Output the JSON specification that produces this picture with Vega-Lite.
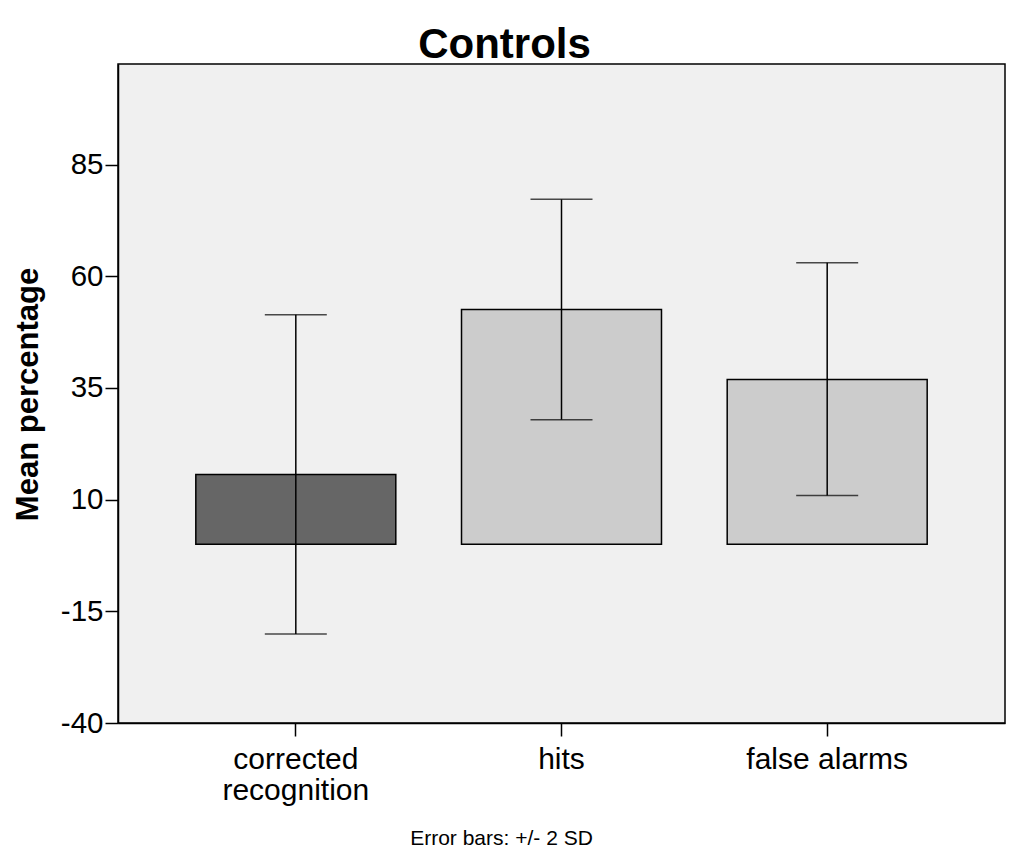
{
  "$schema": "https://vega.github.io/schema/vega-lite/v6.json",
  "autosize": {"type": "none"},
  "width": 887,
  "height": 659,
  "padding": {"left": 118, "top": 64, "right": 19, "bottom": 136},
  "background": "white",
  "title": {
    "text": "Controls",
    "font": "Liberation Sans",
    "fontSize": 42,
    "fontWeight": "bold",
    "color": "black",
    "anchor": "middle",
    "frame": "group",
    "baseline": "alphabetic",
    "offset": 4,
    "dx": -57,
    "dy": 40
  },
  "config": {
    "view": {"fill": "#f0f0f0", "stroke": "black", "strokeWidth": 1.5},
    "axis": {"grid": false, "domainColor": "black", "tickColor": "black", "labelColor": "black", "titleColor": "black", "labelFont": "Liberation Sans", "titleFont": "Liberation Sans", "domainWidth": 1.5, "tickWidth": 1.5, "tickSize": 13}
  },
  "data": {
    "values": [
      {"measure": "corrected recognition", "mean": 15.6, "low": -20.1, "high": 51.4},
      {"measure": "hits", "mean": 52.55, "low": 27.9, "high": 77.2},
      {"measure": "false alarms", "mean": 36.9, "low": 10.9, "high": 63.0}
    ]
  },
  "encoding": {
    "x": {
      "field": "measure",
      "type": "nominal",
      "sort": ["corrected recognition", "hits", "false alarms"],
      "scale": {"paddingInner": 0.2473, "paddingOuter": 0.2929},
      "axis": {
        "labelAngle": 0,
        "labelFontSize": 30,
        "labelPadding": 8,
        "labelLineHeight": 31,
        "labelExpr": "datum.value == 'corrected recognition' ? ['corrected', 'recognition'] : datum.value",
        "title": "Error bars: +/- 2 SD",
        "titleFontSize": 21,
        "titleFontWeight": "normal",
        "titleX": 383,
        "titleY": 121,
        "titleAlign": "center",
        "titleBaseline": "alphabetic",
        "titleAnchor": null
      }
    }
  },
  "layer": [
    {
      "mark": {"type": "bar", "stroke": "black", "strokeWidth": 1.5},
      "encoding": {
        "y": {
          "field": "mean",
          "type": "quantitative",
          "scale": {"domain": [-40, 107.5], "nice": false, "zero": false},
          "axis": {
            "values": [-40, -15, 10, 35, 60, 85],
            "labelExpr": "toString(datum.value)",
            "labelFontSize": 29.5,
            "labelPadding": 2,
            "title": "Mean percentage",
            "titleFontSize": 31,
            "titleFontWeight": "bold",
            "titleAngle": -90,
            "titleX": -81,
            "titleY": 330,
            "titleAlign": "center",
            "titleBaseline": "alphabetic",
            "titleAnchor": null
          }
        },
        "y2": {"datum": 0},
        "color": {
          "field": "measure",
          "type": "nominal",
          "scale": {"domain": ["corrected recognition", "hits", "false alarms"], "range": ["#666666", "#cccccc", "#cccccc"]},
          "legend": null
        }
      }
    },
    {
      "mark": {"type": "rule", "color": "black", "strokeWidth": 1.5},
      "encoding": {
        "y": {"field": "low", "type": "quantitative"},
        "y2": {"field": "high"}
      }
    },
    {
      "mark": {"type": "tick", "orient": "horizontal", "color": "black", "size": 62, "thickness": 1.5},
      "encoding": {"y": {"field": "low", "type": "quantitative"}}
    },
    {
      "mark": {"type": "tick", "orient": "horizontal", "color": "black", "size": 62, "thickness": 1.5},
      "encoding": {"y": {"field": "high", "type": "quantitative"}}
    }
  ]
}
